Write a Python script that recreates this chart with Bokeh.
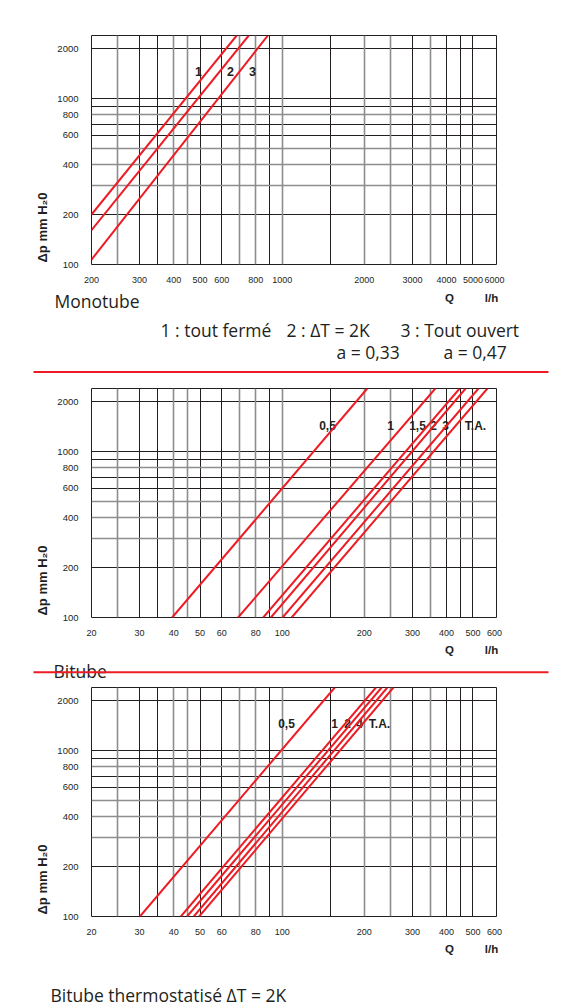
import math
from bokeh.plotting import figure
from bokeh.models import (ColumnDataSource, FixedTicker, Grid, Label, BoxAnnotation,
                          NumeralTickFormatter, Range1d)
from bokeh.layouts import column, row
from bokeh.embed import file_html
from bokeh.resources import INLINE

# ---------------- data ----------------
y_range_min = 100
y_range_max = 2400
y_ticks = [100, 200, 400, 600, 800, 1000, 2000]
y_tick_labels = ["100", "200", "400", "600", "800", "1000", "2000"]
y_grid_dark = [200, 600, 700, 900, 1000, 2000]
y_grid_grey = [300, 400, 500, 800]

mono_x_min, mono_x_max = 200, 6100
mono_x_ticks = [200, 300, 400, 500, 600, 800, 1000, 2000, 3000, 4000, 5000, 6000]
mono_x_labels = ["200", "300", "400", "500", "600", "800", "1000", "2000", "3000", "4000", "5000", "6000"]
mono_x_grid_dark = [300, 350, 500, 600, 900, 1500, 3000, 4000, 4500, 5000]
mono_x_grid_grey = [250, 400, 450, 700, 800, 1000, 2000, 2500, 3500]

bi_x_min, bi_x_max = 20, 610
bi_x_ticks = [20, 30, 40, 50, 60, 80, 100, 200, 300, 400, 500, 600]
bi_x_labels = ["20", "30", "40", "50", "60", "80", "100", "200", "300", "400", "500", "600"]
bi_x_grid_dark = [30, 35, 50, 60, 90, 150, 300, 400, 450, 500]
bi_x_grid_grey = [25, 40, 45, 70, 80, 100, 200, 250, 350]

# Monotube curves (Q l/h, dp mm H2O) : start and end points
mono_curves = ["1", "2", "3"]
mono_q_start = [200, 200, 200]
mono_dp_start = [200, 161, 107]
mono_q_end = [681, 754, 886]
mono_dp_end = [2400, 2400, 2400]

# Bitube curves
bitube_curves = ["0,5", "1", "1,5", "2", "3", "T.A."]
bitube_q_start = [39.5, 68.9, 85.2, 90.9, 100.3, 108.3]
bitube_dp_start = [100, 100, 100, 100, 100, 100]
bitube_q_end = [205, 364, 447, 470, 524, 565]
bitube_dp_end = [2400, 2400, 2400, 2400, 2400, 2400]

# Bitube thermostatise curves
thermo_curves = ["0,5", "1", "2", "4", "T.A."]
thermo_q_start = [30.1, 42.5, 44.8, 47.4, 49.6]
thermo_dp_start = [100, 100, 100, 100, 100]
thermo_q_end = [155.8, 220.5, 231.4, 242.8, 255.6]
thermo_dp_end = [2400, 2400, 2400, 2400, 2400]

# ---------------- style ----------------
INK = "#231f20"
GREY = "#8d8d8d"
RED = "#ed1c24"
TICK_FONT = "Liberation Sans"
CAP_FONT = "Open Sans"
PAGE_W = 550
LBL_W = 52
MAIN_W = PAGE_W - LBL_W
BL = 91 - LBL_W
BR = MAIN_W - BL - 405
BB = 20


def blank(width, height):
    f = figure(width=width, height=height, x_axis_location=None, y_axis_location=None,
               output_backend="svg", toolbar_location=None, min_border=0)
    f.outline_line_color = None
    f.grid.visible = False
    f.background_fill_color = "white"
    f.border_fill_color = "white"
    return f


def make_panel(height, btop, xmin, xmax, x_ticks, x_labels, gdark, ggrey,
               qs, dps, qe, dpe):
    p = figure(width=MAIN_W, height=height, x_axis_type="log", y_axis_type="log",
               x_range=Range1d(xmin, xmax), y_range=Range1d(y_range_min, y_range_max),
               output_backend="svg", toolbar_location=None,
               min_border_left=BL, min_border_right=BR,
               min_border_top=btop, min_border_bottom=BB)
    p.outline_line_color = INK
    p.outline_line_width = 1
    p.background_fill_color = "white"
    p.border_fill_color = "white"

    p.xgrid.ticker = FixedTicker(ticks=gdark)
    p.xgrid.grid_line_color = INK
    p.xgrid.grid_line_width = 1
    p.ygrid.ticker = FixedTicker(ticks=y_grid_dark)
    p.ygrid.grid_line_color = INK
    p.ygrid.grid_line_width = 1
    p.add_layout(Grid(dimension=0, ticker=FixedTicker(ticks=ggrey),
                      grid_line_color=GREY, grid_line_width=1.6))
    p.add_layout(Grid(dimension=1, ticker=FixedTicker(ticks=y_grid_grey),
                      grid_line_color=GREY, grid_line_width=1.6))

    p.xaxis.ticker = FixedTicker(ticks=x_ticks)
    p.xaxis.formatter = NumeralTickFormatter(format="0")
    p.xaxis.major_label_overrides = {v: s for v, s in zip(x_ticks, x_labels)}
    p.yaxis.ticker = FixedTicker(ticks=y_ticks)
    p.yaxis.formatter = NumeralTickFormatter(format="0")
    p.yaxis.major_label_overrides = {v: s for v, s in zip(y_ticks, y_tick_labels)}
    for ax in (p.xaxis[0], p.yaxis[0]):
        ax.axis_line_color = None
        ax.major_tick_line_color = None
        ax.minor_tick_line_color = None
        ax.major_label_text_font = TICK_FONT
        ax.major_label_text_color = INK
    p.xaxis.major_label_text_font_size = "9px"
    p.yaxis.major_label_text_font_size = "9.5px"
    p.xaxis.major_label_standoff = 6
    p.yaxis.major_label_standoff = 7

    src = ColumnDataSource(dict(xs=[[a, b] for a, b in zip(qs, qe)],
                                ys=[[a, b] for a, b in zip(dps, dpe)]))
    p.multi_line("xs", "ys", source=src, line_color=RED, line_width=2)
    return p


def ylabel_strip(height):
    f = blank(LBL_W, height)
    f.add_layout(Label(x=42, y=2, x_units="screen", y_units="screen",
                       text="\u0394p   mm H\u20820", angle=math.pi / 2,
                       text_align="left", text_baseline="middle",
                       text_font=TICK_FONT, text_font_style="bold",
                       text_font_size="13px", text_color=INK))
    return f


def curve_label(p, text, x, y, size="12px"):
    p.add_layout(Label(x=x, y=y, x_units="screen", y_units="screen", text=text,
                       text_align="center", text_baseline="middle",
                       text_font=TICK_FONT, text_font_style="bold",
                       text_font_size=size, text_color=INK, level="underlay"))


def caption(f, text, x, y):
    f.add_layout(Label(x=x, y=y, x_units="screen", y_units="screen", text=text,
                       text_align="left", text_baseline="middle",
                       text_font=CAP_FONT, text_font_size="17.5px", text_color=INK))


def q_units(f, y):
    for txt, xx in (("Q", 449), ("l/h", 491)):
        f.add_layout(Label(x=xx, y=y, x_units="screen", y_units="screen",
                           text=txt, text_align="center", text_baseline="middle",
                           text_font=TICK_FONT, text_font_style="bold",
                           text_font_size="11.5px", text_color=INK))


def red_rule(f, y):
    f.add_layout(BoxAnnotation(left=33, right=548, bottom=y - 1, top=y + 1,
                               left_units="screen", right_units="screen",
                               bottom_units="screen", top_units="screen",
                               fill_color=RED, fill_alpha=1, line_color=None,
                               level="overlay"))


# ---------------- panel 1 : Monotube ----------------
H1 = 35 + 230 + BB
p1 = make_panel(H1, 35, mono_x_min, mono_x_max, mono_x_ticks, mono_x_labels,
                mono_x_grid_dark, mono_x_grid_grey,
                mono_q_start, mono_dp_start, mono_q_end, mono_dp_end)
for t, xx in zip(mono_curves, [107, 139, 161]):
    curve_label(p1, t, xx, 193, "12.5px")
s1 = blank(PAGE_W, 89)
q_units(s1, 77)
caption(s1, "Monotube", 54, 73.3)
caption(s1, "1 : tout ferm\u00e9", 160, 45)
caption(s1, "2 : \u0394T = 2K", 286, 45)
caption(s1, "3 : Tout ouvert", 400, 45)
caption(s1, "a  = 0,33", 336, 22.7)
caption(s1, "a  = 0,47", 443, 22.7)
red_rule(s1, 2.5)

# ---------------- panel 2 : Bitube ----------------
H2 = 14 + 230 + BB
p2 = make_panel(H2, 14, bi_x_min, bi_x_max, bi_x_ticks, bi_x_labels,
                bi_x_grid_dark, bi_x_grid_grey,
                bitube_q_start, bitube_dp_start, bitube_q_end, bitube_dp_end)
for t, xx in zip(bitube_curves, [236, 299, 326, 342, 354, 384]):
    curve_label(p2, t, xx, 192)
s2 = blank(PAGE_W, 46)
q_units(s2, 35)
caption(s2, "Bitube", 53, 14)
red_rule(s2, 12.3)

# ---------------- panel 3 : Bitube thermostatise ----------------
H3 = 3 + 230 + BB
p3 = make_panel(H3, 3, bi_x_min, bi_x_max, bi_x_ticks, bi_x_labels,
                bi_x_grid_dark, bi_x_grid_grey,
                thermo_q_start, thermo_dp_start, thermo_q_end, thermo_dp_end)
for t, xx in zip(thermo_curves, [195, 243, 256, 268, 288]):
    curve_label(p3, t, xx, 193)
s3 = blank(PAGE_W, 1008 - (89 + 46 + H1 + H2 + H3))
q_units(s3, s3.height - 11.5)
caption(s3, "Bitube thermostatis\u00e9 \u0394T = 2K", 50, 14)

layout = column(row(ylabel_strip(H1), p1), s1,
                row(ylabel_strip(H2), p2), s2,
                row(ylabel_strip(H3), p3), s3, spacing=0)
open("out.html", "w").write(file_html(layout, INLINE))
